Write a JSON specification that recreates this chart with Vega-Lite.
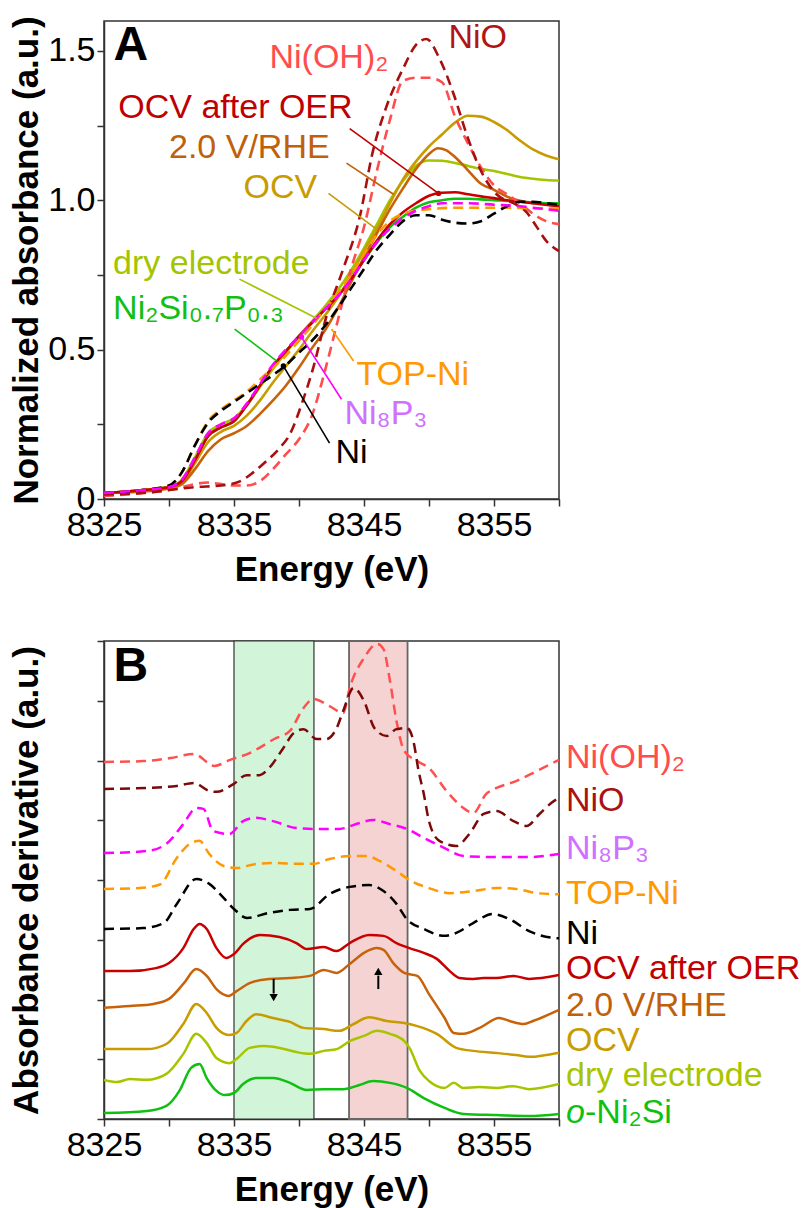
{
  "$schema": "https://vega.github.io/schema/vega-lite/v6.json",
  "padding": {"left": 8, "top": 15, "right": 0, "bottom": 0},
  "spacing": 142,
  "bounds": "flush",
  "config": {
    "font": "Liberation Sans",
    "view": {"stroke": "#333333", "strokeWidth": 1.5},
    "axis": {
      "grid": false,
      "domainColor": "#333333",
      "domainWidth": 1.5,
      "tickColor": "#333333",
      "tickWidth": 1.5,
      "tickSize": 7,
      "labelFont": "Liberation Sans",
      "labelFontSize": 34,
      "labelColor": "#000000",
      "labelFlush": false,
      "labelOverlap": false,
      "titleFont": "Liberation Sans",
      "titleFontSize": 35,
      "titleFontWeight": "bold",
      "titleColor": "#000000"
    }
  },
  "datasets": {
    "absA": [
      {"s":"Ni(OH)2","e":8325,"v":0.01},{"s":"Ni(OH)2","e":8328,"v":0.02},{"s":"Ni(OH)2","e":8330,"v":0.03},{"s":"Ni(OH)2","e":8331,"v":0.04},{"s":"Ni(OH)2","e":8332,"v":0.05},{"s":"Ni(OH)2","e":8333,"v":0.055},{"s":"Ni(OH)2","e":8334,"v":0.05},{"s":"Ni(OH)2","e":8335,"v":0.045},{"s":"Ni(OH)2","e":8336,"v":0.045},{"s":"Ni(OH)2","e":8337,"v":0.06},{"s":"Ni(OH)2","e":8338,"v":0.1},{"s":"Ni(OH)2","e":8339,"v":0.15},{"s":"Ni(OH)2","e":8340,"v":0.2},{"s":"Ni(OH)2","e":8341,"v":0.28},{"s":"Ni(OH)2","e":8342,"v":0.43},{"s":"Ni(OH)2","e":8343,"v":0.6},{"s":"Ni(OH)2","e":8344,"v":0.77},{"s":"Ni(OH)2","e":8345,"v":0.91},{"s":"Ni(OH)2","e":8346,"v":1.1},{"s":"Ni(OH)2","e":8347,"v":1.27},{"s":"Ni(OH)2","e":8348,"v":1.4},{"s":"Ni(OH)2","e":8349,"v":1.41},{"s":"Ni(OH)2","e":8350,"v":1.41},{"s":"Ni(OH)2","e":8351,"v":1.395},{"s":"Ni(OH)2","e":8352,"v":1.28},{"s":"Ni(OH)2","e":8353,"v":1.19},{"s":"Ni(OH)2","e":8354,"v":1.11},{"s":"Ni(OH)2","e":8355,"v":1.05},{"s":"Ni(OH)2","e":8356,"v":1.02},{"s":"Ni(OH)2","e":8357,"v":0.99},{"s":"Ni(OH)2","e":8358,"v":0.955},{"s":"Ni(OH)2","e":8359,"v":0.93},{"s":"Ni(OH)2","e":8360,"v":0.92},
      {"s":"NiO","e":8325,"v":0.015},{"s":"NiO","e":8328,"v":0.02},{"s":"NiO","e":8330,"v":0.03},{"s":"NiO","e":8332,"v":0.04},{"s":"NiO","e":8334,"v":0.045},{"s":"NiO","e":8335.5,"v":0.06},{"s":"NiO","e":8336.5,"v":0.09},{"s":"NiO","e":8337.5,"v":0.127},{"s":"NiO","e":8338.5,"v":0.17},{"s":"NiO","e":8339.3,"v":0.217},{"s":"NiO","e":8340.3,"v":0.33},{"s":"NiO","e":8341.1,"v":0.44},{"s":"NiO","e":8342.1,"v":0.61},{"s":"NiO","e":8343.4,"v":0.77},{"s":"NiO","e":8344.65,"v":0.94},{"s":"NiO","e":8345.7,"v":1.167},{"s":"NiO","e":8346.7,"v":1.31},{"s":"NiO","e":8348,"v":1.44},{"s":"NiO","e":8349,"v":1.52},{"s":"NiO","e":8349.8,"v":1.54},{"s":"NiO","e":8350.8,"v":1.475},{"s":"NiO","e":8351.9,"v":1.355},{"s":"NiO","e":8352.9,"v":1.22},{"s":"NiO","e":8353.9,"v":1.107},{"s":"NiO","e":8355.2,"v":1.02},{"s":"NiO","e":8356.5,"v":0.99},{"s":"NiO","e":8357.5,"v":0.96},{"s":"NiO","e":8358.3,"v":0.91},{"s":"NiO","e":8359,"v":0.865},{"s":"NiO","e":8360,"v":0.83},
      {"s":"Ni2Si0.7P0.3","e":8325,"v":0.02},{"s":"Ni2Si0.7P0.3","e":8328,"v":0.03},{"s":"Ni2Si0.7P0.3","e":8330,"v":0.04},{"s":"Ni2Si0.7P0.3","e":8331,"v":0.06},{"s":"Ni2Si0.7P0.3","e":8332,"v":0.13},{"s":"Ni2Si0.7P0.3","e":8333,"v":0.21},{"s":"Ni2Si0.7P0.3","e":8334,"v":0.24},{"s":"Ni2Si0.7P0.3","e":8335,"v":0.26},{"s":"Ni2Si0.7P0.3","e":8336,"v":0.315},{"s":"Ni2Si0.7P0.3","e":8337,"v":0.38},{"s":"Ni2Si0.7P0.3","e":8338,"v":0.445},{"s":"Ni2Si0.7P0.3","e":8339,"v":0.495},{"s":"Ni2Si0.7P0.3","e":8340,"v":0.545},{"s":"Ni2Si0.7P0.3","e":8341,"v":0.59},{"s":"Ni2Si0.7P0.3","e":8342,"v":0.635},{"s":"Ni2Si0.7P0.3","e":8343,"v":0.68},{"s":"Ni2Si0.7P0.3","e":8344,"v":0.735},{"s":"Ni2Si0.7P0.3","e":8345,"v":0.8},{"s":"Ni2Si0.7P0.3","e":8346,"v":0.86},{"s":"Ni2Si0.7P0.3","e":8347,"v":0.91},{"s":"Ni2Si0.7P0.3","e":8348,"v":0.945},{"s":"Ni2Si0.7P0.3","e":8349,"v":0.975},{"s":"Ni2Si0.7P0.3","e":8350,"v":0.993},{"s":"Ni2Si0.7P0.3","e":8351,"v":1.0},{"s":"Ni2Si0.7P0.3","e":8352,"v":1.005},{"s":"Ni2Si0.7P0.3","e":8353,"v":1.005},{"s":"Ni2Si0.7P0.3","e":8354,"v":1.003},{"s":"Ni2Si0.7P0.3","e":8355,"v":1.0},{"s":"Ni2Si0.7P0.3","e":8356,"v":0.998},{"s":"Ni2Si0.7P0.3","e":8357,"v":0.995},{"s":"Ni2Si0.7P0.3","e":8358,"v":0.993},{"s":"Ni2Si0.7P0.3","e":8359,"v":0.99},{"s":"Ni2Si0.7P0.3","e":8360,"v":0.99},
      {"s":"dry electrode","e":8325,"v":0.02},{"s":"dry electrode","e":8328,"v":0.03},{"s":"dry electrode","e":8330,"v":0.04},{"s":"dry electrode","e":8331,"v":0.065},{"s":"dry electrode","e":8332,"v":0.14},{"s":"dry electrode","e":8333,"v":0.22},{"s":"dry electrode","e":8334,"v":0.25},{"s":"dry electrode","e":8335,"v":0.27},{"s":"dry electrode","e":8336,"v":0.315},{"s":"dry electrode","e":8337,"v":0.375},{"s":"dry electrode","e":8338,"v":0.435},{"s":"dry electrode","e":8339,"v":0.49},{"s":"dry electrode","e":8340,"v":0.545},{"s":"dry electrode","e":8341,"v":0.595},{"s":"dry electrode","e":8342,"v":0.645},{"s":"dry electrode","e":8343,"v":0.7},{"s":"dry electrode","e":8344,"v":0.765},{"s":"dry electrode","e":8345,"v":0.84},{"s":"dry electrode","e":8346,"v":0.92},{"s":"dry electrode","e":8347,"v":1.0},{"s":"dry electrode","e":8348,"v":1.065},{"s":"dry electrode","e":8349,"v":1.115},{"s":"dry electrode","e":8350,"v":1.133},{"s":"dry electrode","e":8351,"v":1.132},{"s":"dry electrode","e":8352,"v":1.125},{"s":"dry electrode","e":8353,"v":1.115},{"s":"dry electrode","e":8354,"v":1.105},{"s":"dry electrode","e":8355,"v":1.098},{"s":"dry electrode","e":8356,"v":1.088},{"s":"dry electrode","e":8357,"v":1.078},{"s":"dry electrode","e":8358,"v":1.072},{"s":"dry electrode","e":8359,"v":1.068},{"s":"dry electrode","e":8360,"v":1.066},
      {"s":"OCV","e":8325,"v":0.02},{"s":"OCV","e":8328,"v":0.03},{"s":"OCV","e":8330,"v":0.04},{"s":"OCV","e":8331,"v":0.055},{"s":"OCV","e":8332,"v":0.12},{"s":"OCV","e":8333,"v":0.19},{"s":"OCV","e":8334,"v":0.225},{"s":"OCV","e":8335,"v":0.245},{"s":"OCV","e":8336,"v":0.28},{"s":"OCV","e":8337,"v":0.33},{"s":"OCV","e":8338,"v":0.39},{"s":"OCV","e":8339,"v":0.445},{"s":"OCV","e":8340,"v":0.5},{"s":"OCV","e":8341,"v":0.56},{"s":"OCV","e":8342,"v":0.615},{"s":"OCV","e":8343,"v":0.675},{"s":"OCV","e":8344,"v":0.75},{"s":"OCV","e":8345,"v":0.83},{"s":"OCV","e":8346,"v":0.905},{"s":"OCV","e":8347,"v":0.99},{"s":"OCV","e":8348,"v":1.07},{"s":"OCV","e":8349,"v":1.13},{"s":"OCV","e":8350,"v":1.18},{"s":"OCV","e":8351,"v":1.22},{"s":"OCV","e":8352,"v":1.26},{"s":"OCV","e":8353,"v":1.283},{"s":"OCV","e":8354,"v":1.28},{"s":"OCV","e":8355,"v":1.262},{"s":"OCV","e":8356,"v":1.235},{"s":"OCV","e":8357,"v":1.2},{"s":"OCV","e":8358,"v":1.17},{"s":"OCV","e":8359,"v":1.15},{"s":"OCV","e":8360,"v":1.137},
      {"s":"2.0 V/RHE","e":8325,"v":0.02},{"s":"2.0 V/RHE","e":8328,"v":0.025},{"s":"2.0 V/RHE","e":8330,"v":0.035},{"s":"2.0 V/RHE","e":8331,"v":0.05},{"s":"2.0 V/RHE","e":8332,"v":0.1},{"s":"2.0 V/RHE","e":8333,"v":0.16},{"s":"2.0 V/RHE","e":8334,"v":0.2},{"s":"2.0 V/RHE","e":8335,"v":0.22},{"s":"2.0 V/RHE","e":8336,"v":0.245},{"s":"2.0 V/RHE","e":8337,"v":0.285},{"s":"2.0 V/RHE","e":8338,"v":0.33},{"s":"2.0 V/RHE","e":8339,"v":0.38},{"s":"2.0 V/RHE","e":8340,"v":0.44},{"s":"2.0 V/RHE","e":8341,"v":0.505},{"s":"2.0 V/RHE","e":8342,"v":0.565},{"s":"2.0 V/RHE","e":8343,"v":0.64},{"s":"2.0 V/RHE","e":8344,"v":0.725},{"s":"2.0 V/RHE","e":8345,"v":0.81},{"s":"2.0 V/RHE","e":8346,"v":0.89},{"s":"2.0 V/RHE","e":8347,"v":0.97},{"s":"2.0 V/RHE","e":8348,"v":1.04},{"s":"2.0 V/RHE","e":8349,"v":1.105},{"s":"2.0 V/RHE","e":8350,"v":1.155},{"s":"2.0 V/RHE","e":8350.7,"v":1.174},{"s":"2.0 V/RHE","e":8351.3,"v":1.168},{"s":"2.0 V/RHE","e":8352,"v":1.145},{"s":"2.0 V/RHE","e":8353,"v":1.1},{"s":"2.0 V/RHE","e":8354,"v":1.055},{"s":"2.0 V/RHE","e":8355,"v":1.035},{"s":"2.0 V/RHE","e":8356,"v":1.012},{"s":"2.0 V/RHE","e":8357,"v":0.998},{"s":"2.0 V/RHE","e":8358,"v":0.99},{"s":"2.0 V/RHE","e":8359,"v":0.985},{"s":"2.0 V/RHE","e":8360,"v":0.98},
      {"s":"OCV after OER","e":8325,"v":0.02},{"s":"OCV after OER","e":8328,"v":0.03},{"s":"OCV after OER","e":8330,"v":0.04},{"s":"OCV after OER","e":8331,"v":0.06},{"s":"OCV after OER","e":8332,"v":0.13},{"s":"OCV after OER","e":8333,"v":0.21},{"s":"OCV after OER","e":8334,"v":0.24},{"s":"OCV after OER","e":8335,"v":0.26},{"s":"OCV after OER","e":8336,"v":0.315},{"s":"OCV after OER","e":8337,"v":0.38},{"s":"OCV after OER","e":8338,"v":0.445},{"s":"OCV after OER","e":8339,"v":0.495},{"s":"OCV after OER","e":8340,"v":0.545},{"s":"OCV after OER","e":8341,"v":0.59},{"s":"OCV after OER","e":8342,"v":0.635},{"s":"OCV after OER","e":8343,"v":0.68},{"s":"OCV after OER","e":8344,"v":0.735},{"s":"OCV after OER","e":8345,"v":0.8},{"s":"OCV after OER","e":8346,"v":0.865},{"s":"OCV after OER","e":8347,"v":0.92},{"s":"OCV after OER","e":8348,"v":0.96},{"s":"OCV after OER","e":8349,"v":0.99},{"s":"OCV after OER","e":8350,"v":1.015},{"s":"OCV after OER","e":8351,"v":1.025},{"s":"OCV after OER","e":8352,"v":1.027},{"s":"OCV after OER","e":8353,"v":1.02},{"s":"OCV after OER","e":8354,"v":1.013},{"s":"OCV after OER","e":8355,"v":1.007},{"s":"OCV after OER","e":8356,"v":1.0},{"s":"OCV after OER","e":8357,"v":0.995},{"s":"OCV after OER","e":8358,"v":0.99},{"s":"OCV after OER","e":8359,"v":0.985},{"s":"OCV after OER","e":8360,"v":0.98},
      {"s":"TOP-Ni","e":8325,"v":0.02},{"s":"TOP-Ni","e":8328,"v":0.03},{"s":"TOP-Ni","e":8330,"v":0.045},{"s":"TOP-Ni","e":8331,"v":0.09},{"s":"TOP-Ni","e":8332,"v":0.18},{"s":"TOP-Ni","e":8333,"v":0.26},{"s":"TOP-Ni","e":8334,"v":0.3},{"s":"TOP-Ni","e":8335,"v":0.33},{"s":"TOP-Ni","e":8336,"v":0.36},{"s":"TOP-Ni","e":8337,"v":0.4},{"s":"TOP-Ni","e":8338,"v":0.44},{"s":"TOP-Ni","e":8339,"v":0.48},{"s":"TOP-Ni","e":8340,"v":0.53},{"s":"TOP-Ni","e":8341,"v":0.58},{"s":"TOP-Ni","e":8342,"v":0.635},{"s":"TOP-Ni","e":8343,"v":0.69},{"s":"TOP-Ni","e":8344,"v":0.75},{"s":"TOP-Ni","e":8345,"v":0.82},{"s":"TOP-Ni","e":8346,"v":0.885},{"s":"TOP-Ni","e":8347,"v":0.93},{"s":"TOP-Ni","e":8348,"v":0.955},{"s":"TOP-Ni","e":8349,"v":0.965},{"s":"TOP-Ni","e":8350,"v":0.97},{"s":"TOP-Ni","e":8352,"v":0.975},{"s":"TOP-Ni","e":8354,"v":0.975},{"s":"TOP-Ni","e":8356,"v":0.975},{"s":"TOP-Ni","e":8358,"v":0.973},{"s":"TOP-Ni","e":8360,"v":0.972},
      {"s":"Ni","e":8325,"v":0.02},{"s":"Ni","e":8328,"v":0.03},{"s":"Ni","e":8330,"v":0.045},{"s":"Ni","e":8331,"v":0.09},{"s":"Ni","e":8332,"v":0.18},{"s":"Ni","e":8333,"v":0.255},{"s":"Ni","e":8334,"v":0.295},{"s":"Ni","e":8335,"v":0.325},{"s":"Ni","e":8336,"v":0.355},{"s":"Ni","e":8337,"v":0.385},{"s":"Ni","e":8338,"v":0.415},{"s":"Ni","e":8339,"v":0.448},{"s":"Ni","e":8340,"v":0.49},{"s":"Ni","e":8341,"v":0.53},{"s":"Ni","e":8342,"v":0.58},{"s":"Ni","e":8343,"v":0.64},{"s":"Ni","e":8344,"v":0.705},{"s":"Ni","e":8345,"v":0.77},{"s":"Ni","e":8346,"v":0.835},{"s":"Ni","e":8347,"v":0.885},{"s":"Ni","e":8348,"v":0.93},{"s":"Ni","e":8349,"v":0.95},{"s":"Ni","e":8350,"v":0.95},{"s":"Ni","e":8351,"v":0.935},{"s":"Ni","e":8352,"v":0.925},{"s":"Ni","e":8353,"v":0.922},{"s":"Ni","e":8354,"v":0.93},{"s":"Ni","e":8355,"v":0.955},{"s":"Ni","e":8356,"v":0.98},{"s":"Ni","e":8357,"v":0.995},{"s":"Ni","e":8358,"v":0.995},{"s":"Ni","e":8359,"v":0.99},{"s":"Ni","e":8360,"v":0.985},
      {"s":"Ni8P3","e":8325,"v":0.02},{"s":"Ni8P3","e":8328,"v":0.03},{"s":"Ni8P3","e":8330,"v":0.04},{"s":"Ni8P3","e":8331,"v":0.065},{"s":"Ni8P3","e":8332,"v":0.14},{"s":"Ni8P3","e":8333,"v":0.22},{"s":"Ni8P3","e":8334,"v":0.25},{"s":"Ni8P3","e":8335,"v":0.27},{"s":"Ni8P3","e":8336,"v":0.32},{"s":"Ni8P3","e":8337,"v":0.385},{"s":"Ni8P3","e":8338,"v":0.45},{"s":"Ni8P3","e":8339,"v":0.5},{"s":"Ni8P3","e":8340,"v":0.545},{"s":"Ni8P3","e":8341,"v":0.59},{"s":"Ni8P3","e":8342,"v":0.635},{"s":"Ni8P3","e":8343,"v":0.68},{"s":"Ni8P3","e":8344,"v":0.735},{"s":"Ni8P3","e":8345,"v":0.8},{"s":"Ni8P3","e":8346,"v":0.86},{"s":"Ni8P3","e":8347,"v":0.905},{"s":"Ni8P3","e":8348,"v":0.94},{"s":"Ni8P3","e":8349,"v":0.965},{"s":"Ni8P3","e":8350,"v":0.98},{"s":"Ni8P3","e":8351,"v":0.99},{"s":"Ni8P3","e":8353,"v":0.99},{"s":"Ni8P3","e":8355,"v":0.985},{"s":"Ni8P3","e":8357,"v":0.98},{"s":"Ni8P3","e":8358,"v":0.975},{"s":"Ni8P3","e":8359,"v":0.97},{"s":"Ni8P3","e":8360,"v":0.965}
    ],
    "leadA": [
      {"s":"OCV after OER","e":8343.9,"v":1.24,"e2":8350.73,"v2":1.023},
      {"s":"2.0 V/RHE","e":8343.65,"v":1.124,"e2":8347.27,"v2":1.02},
      {"s":"OCV","e":8342.27,"v":1.023,"e2":8345.96,"v2":0.903},
      {"s":"dry electrode","e":8335.42,"v":0.736,"e2":8341.35,"v2":0.605},
      {"s":"Ni2Si0.7P0.3","e":8335.05,"v":0.569,"e2":8338.27,"v2":0.462},
      {"s":"TOP-Ni","e":8344.2,"v":0.462,"e2":8342.5,"v2":0.569},
      {"s":"Ni8P3","e":8343.27,"v":0.334,"e2":8340.19,"v2":0.542},
      {"s":"Ni","e":8342.35,"v":0.187,"e2":8338.8,"v2":0.445}
    ],
    "labA": [
      {"s":"Ni(OH)2","t":"Ni(OH)₂","e":8337.73,"v":1.475},
      {"s":"NiO","t":"NiO","e":8351.5,"v":1.543},
      {"s":"OCV after OER","t":"OCV after OER","e":8326.1,"v":1.308},
      {"s":"2.0 V/RHE","t":"2.0 V/RHE","e":8330.0,"v":1.174},
      {"s":"OCV","t":"OCV","e":8335.73,"v":1.04},
      {"s":"dry electrode","t":"dry electrode","e":8325.7,"v":0.786},
      {"s":"Ni2Si0.7P0.3","t":"Ni₂Si₀.₇P₀.₃","e":8325.7,"v":0.637},
      {"s":"TOP-Ni","t":"TOP-Ni","e":8344.42,"v":0.415},
      {"s":"Ni8P3","t":"Ni₈P₃","e":8343.5,"v":0.283},
      {"s":"Ni","t":"Ni","e":8342.8,"v":0.154}
    ],
    "derB": [
      {"s":"Ni(OH)2","e":8325,"v":11.95},{"s":"Ni(OH)2","e":8328,"v":11.98},{"s":"Ni(OH)2","e":8330.1,"v":12.08},{"s":"Ni(OH)2","e":8331.9,"v":12.22},{"s":"Ni(OH)2","e":8333.5,"v":11.82},{"s":"Ni(OH)2","e":8334.7,"v":12.02},{"s":"Ni(OH)2","e":8336.2,"v":12.25},{"s":"Ni(OH)2","e":8338.1,"v":12.72},{"s":"Ni(OH)2","e":8339.3,"v":12.99},{"s":"Ni(OH)2","e":8340.35,"v":13.76},{"s":"Ni(OH)2","e":8341.1,"v":14.06},{"s":"Ni(OH)2","e":8342.35,"v":13.82},{"s":"Ni(OH)2","e":8343.4,"v":13.59},{"s":"Ni(OH)2","e":8343.9,"v":14.43},{"s":"Ni(OH)2","e":8345.0,"v":15.43},{"s":"Ni(OH)2","e":8346.0,"v":15.9},{"s":"Ni(OH)2","e":8346.5,"v":15.73},{"s":"Ni(OH)2","e":8347.0,"v":14.66},{"s":"Ni(OH)2","e":8347.5,"v":13.32},{"s":"Ni(OH)2","e":8348.1,"v":12.32},{"s":"Ni(OH)2","e":8349.1,"v":11.98},{"s":"Ni(OH)2","e":8350.0,"v":11.75},{"s":"Ni(OH)2","e":8351.35,"v":10.98},{"s":"Ni(OH)2","e":8352.65,"v":10.41},{"s":"Ni(OH)2","e":8353.4,"v":10.24},{"s":"Ni(OH)2","e":8354.4,"v":10.88},{"s":"Ni(OH)2","e":8355.2,"v":11.08},{"s":"Ni(OH)2","e":8356.7,"v":11.31},{"s":"Ni(OH)2","e":8358.3,"v":11.65},{"s":"Ni(OH)2","e":8360,"v":12.02},
      {"s":"NiO","e":8325,"v":11.05},{"s":"NiO","e":8328.3,"v":11.08},{"s":"NiO","e":8330.6,"v":11.15},{"s":"NiO","e":8331.9,"v":11.25},{"s":"NiO","e":8333.1,"v":10.98},{"s":"NiO","e":8333.65,"v":10.95},{"s":"NiO","e":8334.96,"v":11.21},{"s":"NiO","e":8335.96,"v":11.51},{"s":"NiO","e":8336.96,"v":11.51},{"s":"NiO","e":8337.7,"v":11.75},{"s":"NiO","e":8338.8,"v":12.42},{"s":"NiO","e":8339.6,"v":12.92},{"s":"NiO","e":8340.35,"v":13.05},{"s":"NiO","e":8341.35,"v":12.72},{"s":"NiO","e":8342.1,"v":12.72},{"s":"NiO","e":8342.9,"v":13.09},{"s":"NiO","e":8343.4,"v":13.66},{"s":"NiO","e":8344.2,"v":14.43},{"s":"NiO","e":8345.0,"v":13.99},{"s":"NiO","e":8345.8,"v":13.09},{"s":"NiO","e":8346.75,"v":12.82},{"s":"NiO","e":8347.5,"v":13.05},{"s":"NiO","e":8348.3,"v":13.09},{"s":"NiO","e":8348.8,"v":12.65},{"s":"NiO","e":8349.2,"v":11.65},{"s":"NiO","e":8349.6,"v":10.88},{"s":"NiO","e":8350.0,"v":9.97},{"s":"NiO","e":8350.8,"v":9.31},{"s":"NiO","e":8352.1,"v":9.14},{"s":"NiO","e":8353.1,"v":9.54},{"s":"NiO","e":8354.2,"v":10.21},{"s":"NiO","e":8355.2,"v":10.31},{"s":"NiO","e":8356.5,"v":9.97},{"s":"NiO","e":8357.5,"v":9.81},{"s":"NiO","e":8358.5,"v":10.21},{"s":"NiO","e":8359.6,"v":10.64},{"s":"NiO","e":8360,"v":10.74},
      {"s":"Ni8P3","e":8325,"v":8.9},{"s":"Ni8P3","e":8328.3,"v":8.97},{"s":"Ni8P3","e":8329.8,"v":9.21},{"s":"Ni8P3","e":8331.1,"v":9.87},{"s":"Ni8P3","e":8332.1,"v":10.41},{"s":"Ni8P3","e":8332.65,"v":10.38},{"s":"Ni8P3","e":8333.4,"v":9.64},{"s":"Ni8P3","e":8334.65,"v":9.54},{"s":"Ni8P3","e":8335.7,"v":9.97},{"s":"Ni8P3","e":8336.7,"v":10.08},{"s":"Ni8P3","e":8338.0,"v":9.97},{"s":"Ni8P3","e":8339.8,"v":9.74},{"s":"Ni8P3","e":8341.35,"v":9.71},{"s":"Ni8P3","e":8343.1,"v":9.71},{"s":"Ni8P3","e":8344.65,"v":9.91},{"s":"Ni8P3","e":8345.7,"v":10.01},{"s":"Ni8P3","e":8347.0,"v":9.87},{"s":"Ni8P3","e":8348.3,"v":9.71},{"s":"Ni8P3","e":8349.6,"v":9.41},{"s":"Ni8P3","e":8351.2,"v":9.07},{"s":"Ni8P3","e":8352.65,"v":8.8},{"s":"Ni8P3","e":8355.2,"v":8.77},{"s":"Ni8P3","e":8357.7,"v":8.77},{"s":"Ni8P3","e":8360,"v":8.87},
      {"s":"TOP-Ni","e":8325,"v":7.7},{"s":"TOP-Ni","e":8327.7,"v":7.73},{"s":"TOP-Ni","e":8329.3,"v":7.85},{"s":"TOP-Ni","e":8330.6,"v":8.74},{"s":"TOP-Ni","e":8331.6,"v":9.21},{"s":"TOP-Ni","e":8332.35,"v":9.31},{"s":"TOP-Ni","e":8333.1,"v":8.87},{"s":"TOP-Ni","e":8334.2,"v":8.47},{"s":"TOP-Ni","e":8335.2,"v":8.4},{"s":"TOP-Ni","e":8336.7,"v":8.54},{"s":"TOP-Ni","e":8338.3,"v":8.57},{"s":"TOP-Ni","e":8339.8,"v":8.54},{"s":"TOP-Ni","e":8341.1,"v":8.54},{"s":"TOP-Ni","e":8342.35,"v":8.7},{"s":"TOP-Ni","e":8343.9,"v":8.8},{"s":"TOP-Ni","e":8345.2,"v":8.8},{"s":"TOP-Ni","e":8346.2,"v":8.64},{"s":"TOP-Ni","e":8347.5,"v":8.3},{"s":"TOP-Ni","e":8348.5,"v":8.0},{"s":"TOP-Ni","e":8350.0,"v":7.73},{"s":"TOP-Ni","e":8351.6,"v":7.56},{"s":"TOP-Ni","e":8353.4,"v":7.63},{"s":"TOP-Ni","e":8355.2,"v":7.73},{"s":"TOP-Ni","e":8356.7,"v":7.7},{"s":"TOP-Ni","e":8358.3,"v":7.56},{"s":"TOP-Ni","e":8360,"v":7.52},
      {"s":"Ni","e":8325,"v":6.36},{"s":"Ni","e":8328.0,"v":6.39},{"s":"Ni","e":8329.6,"v":6.56},{"s":"Ni","e":8330.6,"v":7.2},{"s":"Ni","e":8332.1,"v":8.03},{"s":"Ni","e":8333.1,"v":7.87},{"s":"Ni","e":8334.2,"v":7.4},{"s":"Ni","e":8335.0,"v":7.03},{"s":"Ni","e":8336.0,"v":6.73},{"s":"Ni","e":8337.7,"v":6.9},{"s":"Ni","e":8339.3,"v":7.0},{"s":"Ni","e":8340.85,"v":7.03},{"s":"Ni","e":8342.35,"v":7.53},{"s":"Ni","e":8343.9,"v":7.77},{"s":"Ni","e":8345.4,"v":7.83},{"s":"Ni","e":8346.5,"v":7.63},{"s":"Ni","e":8347.5,"v":7.2},{"s":"Ni","e":8348.3,"v":6.69},{"s":"Ni","e":8349.6,"v":6.36},{"s":"Ni","e":8351.2,"v":6.13},{"s":"Ni","e":8352.1,"v":6.23},{"s":"Ni","e":8353.4,"v":6.56},{"s":"Ni","e":8354.9,"v":6.86},{"s":"Ni","e":8356.2,"v":6.69},{"s":"Ni","e":8357.7,"v":6.29},{"s":"Ni","e":8359.6,"v":6.06},{"s":"Ni","e":8360,"v":6.05},
      {"s":"OCV after OER","e":8325,"v":4.95},{"s":"OCV after OER","e":8327.0,"v":4.95},{"s":"OCV after OER","e":8329.0,"v":5.05},{"s":"OCV after OER","e":8330.0,"v":5.22},{"s":"OCV after OER","e":8331.1,"v":5.72},{"s":"OCV after OER","e":8331.9,"v":6.36},{"s":"OCV after OER","e":8332.35,"v":6.53},{"s":"OCV after OER","e":8332.9,"v":6.36},{"s":"OCV after OER","e":8333.65,"v":5.72},{"s":"OCV after OER","e":8334.4,"v":5.39},{"s":"OCV after OER","e":8335.0,"v":5.52},{"s":"OCV after OER","e":8335.7,"v":5.86},{"s":"OCV after OER","e":8337.0,"v":6.16},{"s":"OCV after OER","e":8338.5,"v":6.09},{"s":"OCV after OER","e":8339.8,"v":5.89},{"s":"OCV after OER","e":8340.6,"v":5.69},{"s":"OCV after OER","e":8341.9,"v":5.76},{"s":"OCV after OER","e":8342.9,"v":5.62},{"s":"OCV after OER","e":8343.9,"v":5.89},{"s":"OCV after OER","e":8345.4,"v":6.16},{"s":"OCV after OER","e":8346.5,"v":6.13},{"s":"OCV after OER","e":8347.5,"v":5.89},{"s":"OCV after OER","e":8348.5,"v":5.72},{"s":"OCV after OER","e":8349.6,"v":5.56},{"s":"OCV after OER","e":8350.6,"v":5.36},{"s":"OCV after OER","e":8351.6,"v":4.95},{"s":"OCV after OER","e":8352.35,"v":4.72},{"s":"OCV after OER","e":8353.4,"v":4.69},{"s":"OCV after OER","e":8354.2,"v":4.72},{"s":"OCV after OER","e":8355.2,"v":4.72},{"s":"OCV after OER","e":8356.5,"v":4.79},{"s":"OCV after OER","e":8357.7,"v":4.69},{"s":"OCV after OER","e":8360,"v":4.82},
      {"s":"2.0 V/RHE","e":8325,"v":3.72},{"s":"2.0 V/RHE","e":8327.0,"v":3.78},{"s":"2.0 V/RHE","e":8328.8,"v":3.85},{"s":"2.0 V/RHE","e":8330.0,"v":4.02},{"s":"2.0 V/RHE","e":8331.1,"v":4.52},{"s":"2.0 V/RHE","e":8332.1,"v":5.02},{"s":"2.0 V/RHE","e":8332.9,"v":4.79},{"s":"2.0 V/RHE","e":8333.65,"v":4.35},{"s":"2.0 V/RHE","e":8334.6,"v":4.12},{"s":"2.0 V/RHE","e":8335.2,"v":4.28},{"s":"2.0 V/RHE","e":8336.2,"v":4.55},{"s":"2.0 V/RHE","e":8337.7,"v":4.69},{"s":"2.0 V/RHE","e":8339.3,"v":4.72},{"s":"2.0 V/RHE","e":8340.85,"v":4.79},{"s":"2.0 V/RHE","e":8341.9,"v":4.99},{"s":"2.0 V/RHE","e":8342.9,"v":4.89},{"s":"2.0 V/RHE","e":8343.9,"v":5.19},{"s":"2.0 V/RHE","e":8345.0,"v":5.56},{"s":"2.0 V/RHE","e":8346.0,"v":5.72},{"s":"2.0 V/RHE","e":8346.5,"v":5.66},{"s":"2.0 V/RHE","e":8347.3,"v":5.19},{"s":"2.0 V/RHE","e":8348.1,"v":4.89},{"s":"2.0 V/RHE","e":8349.1,"v":4.79},{"s":"2.0 V/RHE","e":8350.0,"v":4.18},{"s":"2.0 V/RHE","e":8351.2,"v":3.38},{"s":"2.0 V/RHE","e":8351.9,"v":2.88},{"s":"2.0 V/RHE","e":8352.65,"v":2.85},{"s":"2.0 V/RHE","e":8353.9,"v":3.05},{"s":"2.0 V/RHE","e":8355.4,"v":3.38},{"s":"2.0 V/RHE","e":8356.2,"v":3.28},{"s":"2.0 V/RHE","e":8357.3,"v":3.18},{"s":"2.0 V/RHE","e":8358.0,"v":3.28},{"s":"2.0 V/RHE","e":8360,"v":3.65},
      {"s":"OCV","e":8325,"v":2.34},{"s":"OCV","e":8328.3,"v":2.34},{"s":"OCV","e":8329.8,"v":2.51},{"s":"OCV","e":8331.1,"v":3.18},{"s":"OCV","e":8332.1,"v":3.85},{"s":"OCV","e":8332.9,"v":3.55},{"s":"OCV","e":8333.65,"v":3.05},{"s":"OCV","e":8334.6,"v":2.81},{"s":"OCV","e":8335.2,"v":2.88},{"s":"OCV","e":8335.96,"v":3.28},{"s":"OCV","e":8336.7,"v":3.51},{"s":"OCV","e":8338.0,"v":3.38},{"s":"OCV","e":8339.3,"v":3.25},{"s":"OCV","e":8340.35,"v":3.05},{"s":"OCV","e":8341.9,"v":3.01},{"s":"OCV","e":8343.1,"v":2.95},{"s":"OCV","e":8344.2,"v":3.18},{"s":"OCV","e":8345.4,"v":3.41},{"s":"OCV","e":8346.75,"v":3.28},{"s":"OCV","e":8348.1,"v":3.21},{"s":"OCV","e":8349.1,"v":3.11},{"s":"OCV","e":8350.6,"v":2.85},{"s":"OCV","e":8352.1,"v":2.38},{"s":"OCV","e":8353.4,"v":2.28},{"s":"OCV","e":8355.2,"v":2.21},{"s":"OCV","e":8356.7,"v":2.14},{"s":"OCV","e":8357.7,"v":2.08},{"s":"OCV","e":8360,"v":2.22},
      {"s":"dry electrode","e":8325,"v":1.31},{"s":"dry electrode","e":8326.0,"v":1.24},{"s":"dry electrode","e":8327.0,"v":1.34},{"s":"dry electrode","e":8328.3,"v":1.31},{"s":"dry electrode","e":8329.8,"v":1.51},{"s":"dry electrode","e":8331.1,"v":2.18},{"s":"dry electrode","e":8332.1,"v":2.85},{"s":"dry electrode","e":8332.9,"v":2.54},{"s":"dry electrode","e":8333.65,"v":2.04},{"s":"dry electrode","e":8334.65,"v":1.87},{"s":"dry electrode","e":8335.2,"v":2.01},{"s":"dry electrode","e":8336.2,"v":2.38},{"s":"dry electrode","e":8337.3,"v":2.44},{"s":"dry electrode","e":8338.5,"v":2.38},{"s":"dry electrode","e":8339.8,"v":2.24},{"s":"dry electrode","e":8340.85,"v":2.18},{"s":"dry electrode","e":8341.9,"v":2.28},{"s":"dry electrode","e":8342.9,"v":2.34},{"s":"dry electrode","e":8343.9,"v":2.61},{"s":"dry electrode","e":8345.0,"v":2.78},{"s":"dry electrode","e":8346.0,"v":2.95},{"s":"dry electrode","e":8347.0,"v":2.85},{"s":"dry electrode","e":8348.1,"v":2.61},{"s":"dry electrode","e":8348.5,"v":2.38},{"s":"dry electrode","e":8349.3,"v":1.61},{"s":"dry electrode","e":8350.0,"v":1.27},{"s":"dry electrode","e":8351.2,"v":1.04},{"s":"dry electrode","e":8351.9,"v":1.21},{"s":"dry electrode","e":8352.65,"v":1.04},{"s":"dry electrode","e":8353.9,"v":1.07},{"s":"dry electrode","e":8355.2,"v":1.04},{"s":"dry electrode","e":8356.5,"v":1.1},{"s":"dry electrode","e":8357.7,"v":1.0},{"s":"dry electrode","e":8360,"v":1.17},
      {"s":"o-Ni2Si","e":8325,"v":0.2},{"s":"o-Ni2Si","e":8328.3,"v":0.27},{"s":"o-Ni2Si","e":8329.8,"v":0.44},{"s":"o-Ni2Si","e":8330.8,"v":0.94},{"s":"o-Ni2Si","e":8331.7,"v":1.71},{"s":"o-Ni2Si","e":8332.35,"v":1.84},{"s":"o-Ni2Si","e":8332.9,"v":1.37},{"s":"o-Ni2Si","e":8333.65,"v":0.94},{"s":"o-Ni2Si","e":8334.3,"v":0.8},{"s":"o-Ni2Si","e":8335.0,"v":0.87},{"s":"o-Ni2Si","e":8335.7,"v":1.17},{"s":"o-Ni2Si","e":8336.7,"v":1.37},{"s":"o-Ni2Si","e":8338.0,"v":1.37},{"s":"o-Ni2Si","e":8339.3,"v":1.21},{"s":"o-Ni2Si","e":8340.6,"v":0.97},{"s":"o-Ni2Si","e":8341.9,"v":1.0},{"s":"o-Ni2Si","e":8343.4,"v":1.0},{"s":"o-Ni2Si","e":8344.65,"v":1.14},{"s":"o-Ni2Si","e":8345.7,"v":1.27},{"s":"o-Ni2Si","e":8347.0,"v":1.21},{"s":"o-Ni2Si","e":8348.3,"v":1.04},{"s":"o-Ni2Si","e":8349.6,"v":0.7},{"s":"o-Ni2Si","e":8351.2,"v":0.37},{"s":"o-Ni2Si","e":8352.65,"v":0.17},{"s":"o-Ni2Si","e":8355.2,"v":0.13},{"s":"o-Ni2Si","e":8357.7,"v":0.1},{"s":"o-Ni2Si","e":8360,"v":0.17}
    ],
    "labB": [
      {"s":"Ni(OH)2","t":"Ni(OH)₂","v":12.08},
      {"s":"NiO","t":"NiO","v":10.64},
      {"s":"Ni8P3","t":"Ni₈P₃","v":9.04},
      {"s":"TOP-Ni","t":"TOP-Ni","v":7.53},
      {"s":"Ni","t":"Ni","v":6.19},
      {"s":"OCV after OER","t":"OCV after OER","v":5.02},
      {"s":"2.0 V/RHE","t":"2.0 V/RHE","v":3.78},
      {"s":"OCV","t":"OCV","v":2.61},
      {"s":"dry electrode","t":"dry electrode","v":1.44}
    ]
  },
  "vconcat": [
    {
      "width": 455,
      "height": 478,
      "resolve": {"scale": {"color": "independent"}},
      "layer": [
        {
          "data": {"name": "absA"},
          "transform": [{"filter": {"field": "s", "oneOf": ["Ni2Si0.7P0.3", "dry electrode", "OCV", "2.0 V/RHE", "OCV after OER"]}}],
          "mark": {"type": "line", "strokeWidth": 2.6, "interpolate": "monotone", "clip": true},
          "encoding": {
            "x": {"field": "e", "type": "quantitative", "scale": {"domain": [8325, 8360], "nice": false, "zero": false},
                  "axis": {"title": "Energy (eV)", "values": [8325, 8327.5, 8330, 8332.5, 8335, 8337.5, 8340, 8342.5, 8345, 8347.5, 8350, 8352.5, 8355, 8357.5, 8360],
                           "labelExpr": "(datum.value - 8325) % 10 == 0 ? format(datum.value, 'd') : ''", "labelPadding": 2, "titlePadding": 10}},
            "y": {"field": "v", "type": "quantitative", "scale": {"domain": [0, 1.6], "nice": false},
                  "axis": {"title": "Normalized absorbance (a.u.)", "values": [0, 0.25, 0.5, 0.75, 1, 1.25, 1.5],
                           "labelExpr": "datum.value == 0 ? '0' : ((datum.value * 2) % 1 == 0 ? format(datum.value, '.1f') : '')", "labelPadding": 2, "titlePadding": 3}},
            "color": {"field": "s", "type": "nominal", "legend": null,
                      "scale": {"domain": ["Ni2Si0.7P0.3", "dry electrode", "OCV", "2.0 V/RHE", "OCV after OER"], "range": ["#10c010", "#a4c400", "#c89b00", "#c8620a", "#c80000"]}},
            "order": {"field": "e", "type": "quantitative"}
          }
        },
        {
          "data": {"name": "absA"},
          "transform": [{"filter": {"field": "s", "oneOf": ["TOP-Ni", "Ni", "Ni8P3", "Ni(OH)2", "NiO"]}}],
          "mark": {"type": "line", "strokeWidth": 2.6, "strokeDash": [10, 6], "interpolate": "monotone", "clip": true},
          "encoding": {
            "x": {"field": "e", "type": "quantitative"},
            "y": {"field": "v", "type": "quantitative"},
            "color": {"field": "s", "type": "nominal", "legend": null,
                      "scale": {"domain": ["TOP-Ni", "Ni", "Ni8P3", "Ni(OH)2", "NiO"], "range": ["#ff9900", "#000000", "#ff00ff", "#ff4d4d", "#a81010"]}},
            "order": {"field": "e", "type": "quantitative"}
          }
        },
        {
          "data": {"name": "leadA"},
          "mark": {"type": "rule", "strokeWidth": 1.6},
          "encoding": {
            "x": {"field": "e", "type": "quantitative"},
            "y": {"field": "v", "type": "quantitative"},
            "x2": {"field": "e2"},
            "y2": {"field": "v2"},
            "color": {"field": "s", "type": "nominal", "legend": null,
                      "scale": {"domain": ["OCV after OER", "2.0 V/RHE", "OCV", "dry electrode", "Ni2Si0.7P0.3", "TOP-Ni", "Ni8P3", "Ni"],
                                "range": ["#c00000", "#c0600a", "#c89b00", "#a4c400", "#10c010", "#ff9900", "#ff00ff", "#000000"]}}
          }
        },
        {
          "data": {"name": "leadA"},
          "transform": [{"filter": {"field": "s", "oneOf": ["OCV after OER", "Ni8P3", "Ni"]}}],
          "mark": {"type": "point", "filled": true, "size": 30, "opacity": 1},
          "encoding": {
            "x": {"field": "e2", "type": "quantitative"},
            "y": {"field": "v2", "type": "quantitative"},
            "color": {"field": "s", "type": "nominal", "legend": null,
                      "scale": {"domain": ["OCV after OER", "Ni8P3", "Ni"], "range": ["#c00000", "#ff00ff", "#000000"]}}
          }
        },
        {
          "data": {"name": "labA"},
          "mark": {"type": "text", "align": "left", "baseline": "middle", "fontSize": 34, "font": "Liberation Sans"},
          "encoding": {
            "x": {"field": "e", "type": "quantitative"},
            "y": {"field": "v", "type": "quantitative"},
            "text": {"field": "t"},
            "color": {"field": "s", "type": "nominal", "legend": null,
                      "scale": {"domain": ["Ni(OH)2", "NiO", "OCV after OER", "2.0 V/RHE", "OCV", "dry electrode", "Ni2Si0.7P0.3", "TOP-Ni", "Ni8P3", "Ni"],
                                "range": ["#ff4d4d", "#b01515", "#c00000", "#c0600a", "#c89b00", "#a4c400", "#10c010", "#ff9900", "#d070ff", "#000000"]}}
          }
        },
        {
          "data": {"values": [{"t": "A", "e": 8325.73, "v": 1.517}]},
          "mark": {"type": "text", "align": "left", "baseline": "middle", "fontSize": 48, "fontWeight": "bold", "color": "#000000"},
          "encoding": {
            "x": {"field": "e", "type": "quantitative"},
            "y": {"field": "v", "type": "quantitative"},
            "text": {"field": "t"}
          }
        }
      ]
    },
    {
      "width": 455,
      "height": 478,
      "resolve": {"scale": {"color": "independent"}},
      "layer": [
        {
          "data": {"values": [{"a": 8335, "b": 8341.15}]},
          "mark": {"type": "rect", "fill": "#d2f5da", "stroke": "#333333", "strokeWidth": 1.2},
          "encoding": {
            "x": {"field": "a", "type": "quantitative", "scale": {"domain": [8325, 8360], "nice": false, "zero": false},
                  "axis": {"title": "Energy (eV)", "values": [8325, 8327.5, 8330, 8332.5, 8335, 8337.5, 8340, 8342.5, 8345, 8347.5, 8350, 8352.5, 8355, 8357.5, 8360],
                           "labelExpr": "(datum.value - 8325) % 10 == 0 ? format(datum.value, 'd') : ''", "labelPadding": 2, "titlePadding": 10}},
            "x2": {"field": "b"}
          }
        },
        {
          "data": {"values": [{"a": 8343.85, "b": 8348.35}]},
          "mark": {"type": "rect", "fill": "#f5d3d3", "stroke": "#666666", "strokeWidth": 1.8},
          "encoding": {
            "x": {"field": "a", "type": "quantitative"},
            "x2": {"field": "b"}
          }
        },
        {
          "data": {"name": "derB"},
          "transform": [{"filter": {"field": "s", "oneOf": ["o-Ni2Si", "dry electrode", "OCV", "2.0 V/RHE", "OCV after OER"]}}],
          "mark": {"type": "line", "strokeWidth": 2.5, "interpolate": "monotone", "clip": true},
          "encoding": {
            "x": {"field": "e", "type": "quantitative"},
            "y": {"field": "v", "type": "quantitative", "scale": {"domain": [0, 16], "nice": false},
                  "axis": {"title": "Absorbance derivative (a.u.)", "values": [0, 1, 2, 3, 4, 5, 6, 7, 8, 9, 10, 11, 12, 13, 14, 15, 16], "labels": false, "titlePadding": 52}},
            "color": {"field": "s", "type": "nominal", "legend": null,
                      "scale": {"domain": ["o-Ni2Si", "dry electrode", "OCV", "2.0 V/RHE", "OCV after OER"], "range": ["#10c010", "#a8c400", "#c89b00", "#c8620a", "#c80000"]}},
            "order": {"field": "e", "type": "quantitative"}
          }
        },
        {
          "data": {"name": "derB"},
          "transform": [{"filter": {"field": "s", "oneOf": ["Ni(OH)2", "NiO", "Ni8P3", "TOP-Ni", "Ni"]}}],
          "mark": {"type": "line", "strokeWidth": 2.5, "strokeDash": [10, 6], "interpolate": "monotone", "clip": true},
          "encoding": {
            "x": {"field": "e", "type": "quantitative"},
            "y": {"field": "v", "type": "quantitative"},
            "color": {"field": "s", "type": "nominal", "legend": null,
                      "scale": {"domain": ["Ni(OH)2", "NiO", "Ni8P3", "TOP-Ni", "Ni"], "range": ["#ff5050", "#7a0a0a", "#ff00ff", "#ff9900", "#000000"]}},
            "order": {"field": "e", "type": "quantitative"}
          }
        },
        {
          "data": {"values": [{"e": 8338.05, "v": 4.69, "v2": 4.2}, {"e": 8346.1, "v": 4.35, "v2": 4.8}]},
          "mark": {"type": "rule", "strokeWidth": 2, "color": "#000000"},
          "encoding": {
            "x": {"field": "e", "type": "quantitative"},
            "y": {"field": "v", "type": "quantitative"},
            "y2": {"field": "v2"}
          }
        },
        {
          "data": {"values": [{"e": 8338.05, "v": 4.06, "dir": "down"}, {"e": 8346.1, "v": 4.94, "dir": "up"}]},
          "mark": {"type": "point", "filled": true, "size": 70, "color": "#000000", "opacity": 1},
          "encoding": {
            "x": {"field": "e", "type": "quantitative"},
            "y": {"field": "v", "type": "quantitative"},
            "shape": {"field": "dir", "type": "nominal", "legend": null, "scale": {"domain": ["down", "up"], "range": ["triangle-down", "triangle-up"]}}
          }
        },
        {
          "data": {"name": "labB"},
          "mark": {"type": "text", "align": "left", "baseline": "middle", "fontSize": 34, "dx": 7},
          "encoding": {
            "x": {"datum": 8360, "type": "quantitative"},
            "y": {"field": "v", "type": "quantitative"},
            "text": {"field": "t"},
            "color": {"field": "s", "type": "nominal", "legend": null,
                      "scale": {"domain": ["Ni(OH)2", "NiO", "Ni8P3", "TOP-Ni", "Ni", "OCV after OER", "2.0 V/RHE", "OCV", "dry electrode"],
                                "range": ["#ff4d4d", "#aa1111", "#d070ff", "#ff9900", "#000000", "#c00000", "#c0600a", "#c89b00", "#a8c400"]}}
          }
        },
        {
          "data": {"values": [{"t": "o", "v": 0.2}]},
          "mark": {"type": "text", "align": "left", "baseline": "middle", "fontSize": 34, "fontStyle": "italic", "dx": 7, "color": "#10c010"},
          "encoding": {
            "x": {"datum": 8360, "type": "quantitative"},
            "y": {"field": "v", "type": "quantitative"},
            "text": {"field": "t"}
          }
        },
        {
          "data": {"values": [{"t": "-Ni₂Si", "v": 0.2}]},
          "mark": {"type": "text", "align": "left", "baseline": "middle", "fontSize": 34, "dx": 26, "color": "#10c010"},
          "encoding": {
            "x": {"datum": 8360, "type": "quantitative"},
            "y": {"field": "v", "type": "quantitative"},
            "text": {"field": "t"}
          }
        },
        {
          "data": {"values": [{"t": "B", "e": 8325.73, "v": 15.13}]},
          "mark": {"type": "text", "align": "left", "baseline": "middle", "fontSize": 48, "fontWeight": "bold", "color": "#000000"},
          "encoding": {
            "x": {"field": "e", "type": "quantitative"},
            "y": {"field": "v", "type": "quantitative"},
            "text": {"field": "t"}
          }
        }
      ]
    }
  ]
}
